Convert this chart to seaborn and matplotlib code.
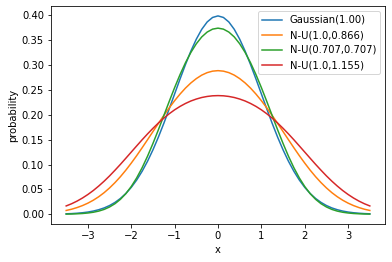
import matplotlib
matplotlib.use("Agg")
import matplotlib.pyplot as plt
import seaborn as sns
import pandas as pd

x_vals = [-3.5, -3.375, -3.25, -3.125, -3.0, -2.875, -2.75, -2.625, -2.5, -2.375, -2.25, -2.125,
          -2.0, -1.875, -1.75, -1.625, -1.5, -1.375, -1.25, -1.125, -1.0, -0.875, -0.75, -0.625,
          -0.5, -0.375, -0.25, -0.125, 0.0, 0.125, 0.25, 0.375, 0.5, 0.625, 0.75, 0.875,
          1.0, 1.125, 1.25, 1.375, 1.5, 1.625, 1.75, 1.875, 2.0, 2.125, 2.25, 2.375,
          2.5, 2.625, 2.75, 2.875, 3.0, 3.125, 3.25, 3.375, 3.5]

gaussian = [0.0009, 0.0013, 0.0020, 0.0030, 0.0044, 0.0064, 0.0091, 0.0127, 0.0175, 0.0238, 0.0317, 0.0417,
            0.0540, 0.0688, 0.0863, 0.1065, 0.1295, 0.1550, 0.1826, 0.2119, 0.2420, 0.2721, 0.3011, 0.3282,
            0.3521, 0.3719, 0.3867, 0.3958, 0.3989, 0.3958, 0.3867, 0.3719, 0.3521, 0.3282, 0.3011, 0.2721,
            0.2420, 0.2119, 0.1826, 0.1550, 0.1295, 0.1065, 0.0863, 0.0688, 0.0540, 0.0417, 0.0317, 0.0238,
            0.0175, 0.0127, 0.0091, 0.0064, 0.0044, 0.0030, 0.0020, 0.0013, 0.0009]
nu_1_0866 = [0.0076, 0.0101, 0.0134, 0.0174, 0.0223, 0.0282, 0.0352, 0.0434, 0.0529, 0.0636, 0.0755, 0.0886,
             0.1028, 0.1178, 0.1336, 0.1498, 0.1662, 0.1826, 0.1986, 0.2139, 0.2284, 0.2417, 0.2537, 0.2641,
             0.2728, 0.2798, 0.2848, 0.2878, 0.2888, 0.2878, 0.2848, 0.2798, 0.2728, 0.2641, 0.2537, 0.2417,
             0.2284, 0.2139, 0.1986, 0.1826, 0.1662, 0.1498, 0.1336, 0.1178, 0.1028, 0.0886, 0.0755, 0.0636,
             0.0529, 0.0434, 0.0352, 0.0282, 0.0223, 0.0174, 0.0134, 0.0101, 0.0076]
nu_0707_0707 = [0.0003, 0.0005, 0.0009, 0.0015, 0.0025, 0.0040, 0.0063, 0.0097, 0.0146, 0.0212, 0.0300, 0.0414,
                0.0557, 0.0730, 0.0934, 0.1166, 0.1423, 0.1697, 0.1982, 0.2268, 0.2547, 0.2809, 0.3047, 0.3255,
                0.3429, 0.3566, 0.3664, 0.3723, 0.3743, 0.3723, 0.3664, 0.3566, 0.3429, 0.3255, 0.3047, 0.2809,
                0.2547, 0.2268, 0.1982, 0.1697, 0.1423, 0.1166, 0.0934, 0.0730, 0.0557, 0.0414, 0.0300, 0.0212,
                0.0146, 0.0097, 0.0063, 0.0040, 0.0025, 0.0015, 0.0009, 0.0005, 0.0003]
nu_1_1155 = [0.0167, 0.0211, 0.0264, 0.0326, 0.0397, 0.0477, 0.0567, 0.0665, 0.0771, 0.0885, 0.1003, 0.1126,
             0.1250, 0.1374, 0.1497, 0.1615, 0.1728, 0.1834, 0.1932, 0.2021, 0.2100, 0.2169, 0.2228, 0.2278,
             0.2317, 0.2348, 0.2369, 0.2382, 0.2386, 0.2382, 0.2369, 0.2348, 0.2317, 0.2278, 0.2228, 0.2169,
             0.2100, 0.2021, 0.1932, 0.1834, 0.1728, 0.1615, 0.1497, 0.1374, 0.1250, 0.1126, 0.1003, 0.0885,
             0.0771, 0.0665, 0.0567, 0.0477, 0.0397, 0.0326, 0.0264, 0.0211, 0.0167]

labels = ["Gaussian(1.00)", "N-U(1.0,0.866)", "N-U(0.707,0.707)", "N-U(1.0,1.155)"]
series = [gaussian, nu_1_0866, nu_0707_0707, nu_1_1155]

rows = []
for lab, ys in zip(labels, series):
    for xv, yv in zip(x_vals, ys):
        rows.append({"x": xv, "probability": yv, "dist": lab})
df = pd.DataFrame(rows)

W, H = 392, 262
fig = plt.figure(figsize=(W / 72, H / 72), dpi=72)
ax = fig.add_axes([51 / W, (H - 224) / H, 334 / W, 218 / H])

sns.lineplot(data=df, x="x", y="probability", hue="dist", hue_order=labels,
             palette=["#1f77b4", "#ff7f0e", "#2ca02c", "#d62728"], ax=ax, linewidth=1.5)

ax.set_xticks([-3, -2, -1, 0, 1, 2, 3])
ax.set_yticks([0.0, 0.05, 0.10, 0.15, 0.20, 0.25, 0.30, 0.35, 0.40])
ax.set_yticklabels(["0.00", "0.05", "0.10", "0.15", "0.20", "0.25", "0.30", "0.35", "0.40"])
ax.tick_params(labelsize=10)
ax.set_xlabel("x", fontsize=10)
ax.set_ylabel("probability", fontsize=10)
ax.legend(title=None, loc="upper right", fontsize=10)

fig.savefig("out.png", dpi=72)
